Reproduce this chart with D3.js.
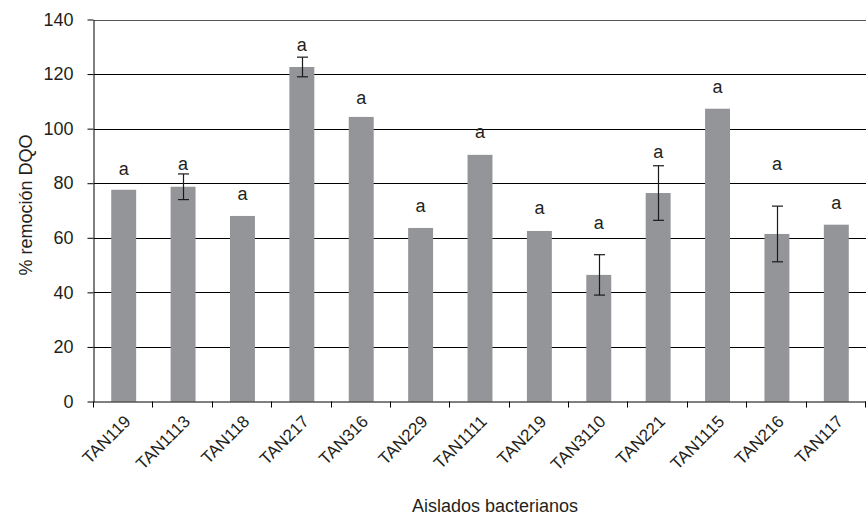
<!DOCTYPE html>
<html>
<head>
<meta charset="utf-8">
<script src="https://cdn.jsdelivr.net/npm/d3@7"></script>
<style>
  html, body { margin: 0; padding: 0; background: #fff; }
  svg { display: block; font-family: "Liberation Sans", Arial, sans-serif; }
</style>
</head>
<body>
<svg id="chart" width="867" height="517"></svg>
<script>
// Bacterial isolates and their COD removal (%)
const isolates = ["TAN119", "TAN1113", "TAN118", "TAN217", "TAN316", "TAN229", "TAN1111",
                  "TAN219", "TAN3110", "TAN221", "TAN1115", "TAN216", "TAN117"];
const removal = [77.6, 78.7, 68.0, 122.6, 104.3, 63.6, 90.4, 62.5, 46.4, 76.4, 107.3, 61.4, 64.8];
// Standard deviation (null where no error bar is shown)
const deviation = [null, 4.7, null, 3.6, null, null, null, null, 7.4, 10.0, null, 10.2, null];
// Statistical grouping letters and the height (in %) where each is written
const groupLetter = ["a", "a", "a", "a", "a", "a", "a", "a", "a", "a", "a", "a", "a"];
const letterAt = [84.9, 86.7, 75.7, 130.2, 110.6, 71.0, 98.4, 70.3, 65.1, 90.9, 114.9, 86.4, 72.4];
const yTicks = [0, 20, 40, 60, 80, 100, 120, 140];

(function draw() {
  const svg = d3.select("#chart");
  const plotLeft = 94, plotRight = 866, plotTop = 19.5, plotBottom = 401.5;
  const ink = "#231f20", fontSize = 18;

  const x = d3.scaleBand().domain(isolates).range([plotLeft, plotRight])
    .paddingInner(0.58).paddingOuter(0.29);
  const y = d3.scaleLinear().domain([0, 140]).range([plotBottom, plotTop]);

  // Horizontal gridlines
  svg.append("g").selectAll("line").data(yTicks.filter(d => d > 0)).join("line")
    .attr("x1", plotLeft).attr("x2", plotRight)
    .attr("y1", d => Math.round(y(d)) + 0.5).attr("y2", d => Math.round(y(d)) + 0.5)
    .attr("stroke", d => d === 140 ? "#555" : "#000").attr("stroke-width", 1);

  // Y axis
  const yAxis = svg.append("g").attr("transform", `translate(${plotLeft - 0.5},0)`)
    .call(d3.axisLeft(y).tickValues(yTicks).tickSize(6).tickPadding(14).tickSizeOuter(0));
  yAxis.select(".domain").attr("stroke", "#000");
  yAxis.selectAll(".tick line").attr("stroke", "#000");
  yAxis.selectAll(".tick text").attr("font-size", fontSize).attr("fill", ink)
    .attr("font-family", "Liberation Sans, Arial, sans-serif");

  // Bars
  const rows = isolates.map((c, i) => ({ c, v: removal[i], e: deviation[i], l: groupLetter[i], ly: letterAt[i] }));
  svg.append("g").selectAll("rect").data(rows).join("rect")
    .attr("x", d => x(d.c)).attr("width", x.bandwidth())
    .attr("y", d => y(d.v)).attr("height", d => y(0) - y(d.v))
    .attr("fill", "#939598");

  // Error bars
  const eb = svg.append("g").attr("stroke", "#1a1a1a").attr("stroke-width", 1.2);
  rows.filter(d => d.e != null).forEach(d => {
    const cx = Math.round(x(d.c) + x.bandwidth() / 2) + 0.5;
    eb.append("line").attr("x1", cx).attr("x2", cx).attr("y1", y(d.v + d.e)).attr("y2", y(d.v - d.e));
    [d.v + d.e, d.v - d.e].forEach(v => {
      eb.append("line").attr("x1", cx - 5.5).attr("x2", cx + 5.5).attr("y1", y(v)).attr("y2", y(v));
    });
  });

  // Group letters
  svg.append("g").selectAll("text").data(rows).join("text")
    .attr("x", d => x(d.c) + x.bandwidth() / 2).attr("y", d => y(d.ly))
    .attr("dy", "0.26em").attr("text-anchor", "middle")
    .attr("font-size", fontSize).attr("fill", ink).text(d => d.l);

  // X axis line and category boundary ticks
  svg.append("line").attr("x1", plotLeft).attr("x2", plotRight)
    .attr("y1", plotBottom + 0.5).attr("y2", plotBottom + 0.5).attr("stroke", "#000");
  const step = x.step();
  svg.append("g").selectAll("line").data(d3.range(isolates.length + 1)).join("line")
    .attr("x1", i => Math.round(plotLeft + i * step) - 0.5).attr("x2", i => Math.round(plotLeft + i * step) - 0.5)
    .attr("y1", plotBottom).attr("y2", plotBottom + 6).attr("stroke", "#000");

  // Rotated category labels
  svg.append("g").selectAll("text").data(isolates).join("text")
    .attr("transform", d => `translate(${x(d) + x.bandwidth() / 2 + 8},${plotBottom + 21}) rotate(-45)`)
    .attr("text-anchor", "end").attr("font-size", 17).attr("fill", ink).text(d => d);

  // Axis titles
  svg.append("text").attr("x", 495).attr("y", 512)
    .attr("text-anchor", "middle").attr("font-size", fontSize).attr("fill", ink)
    .text("Aislados bacterianos");
  svg.append("text").attr("transform", `translate(32,205) rotate(-90)`)
    .attr("text-anchor", "middle").attr("font-size", fontSize).attr("fill", ink)
    .text("% remoción DQO");
})();
</script>
</body>
</html>
